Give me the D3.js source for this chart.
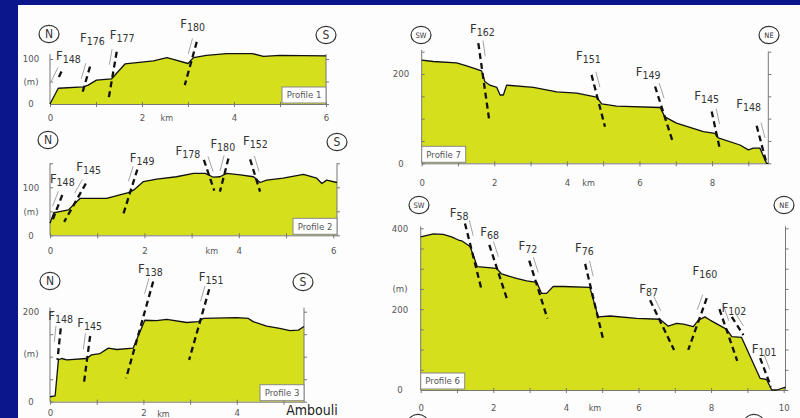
<!DOCTYPE html>
<html>
<head>
<meta charset="utf-8">
<script src="https://cdn.jsdelivr.net/npm/d3@7"></script>
<style>
  html, body { margin: 0; padding: 0; background: #0b168c; }
  svg { display: block; }
  text { font-family: "Liberation Sans Narrow", "DejaVu Sans Condensed", "Liberation Sans", sans-serif; }
</style>
</head>
<body>
<svg id="fig" width="800" height="418"></svg>
<script>
// ---- Topographic profiles: [distance (km), elevation (m)] ----
const profile1 = [[0,0],[0.18,35],[0.72,38],[0.83,42],[1.01,53],[1.34,56],[1.63,89],[2.25,96],[2.54,103],[2.68,99],[3.0,90],[3.12,103],[3.4,108],[3.84,112],[4.4,112],[4.64,106],[5.0,108],[6.0,107]];
const profile2 = [[0,25],[0.08,47],[0.18,49],[0.39,53],[0.64,77],[1.2,77],[1.66,89],[1.77,94],[1.98,112],[2.26,117],[2.68,122],[3.04,129],[3.29,129],[3.46,121],[3.6,122],[3.74,129],[4.03,126],[4.31,122],[4.45,110],[4.59,115],[4.94,119],[5.37,127],[5.65,119],[5.76,108],[5.86,115],[6.08,110]];
const profile3 = [[0,11],[0.11,13],[0.18,93],[0.25,96],[0.36,93],[0.78,96],[0.89,104],[1.07,107],[1.25,119],[1.43,116],[1.78,119],[2.03,181],[2.28,180],[2.5,183],[2.93,176],[3.18,178],[3.28,185],[4.0,187],[4.25,185],[4.35,178],[4.64,168],[4.92,163],[5.14,158],[5.32,159],[5.44,167]];
const profile7 = [[0,231],[0.32,228],[0.96,225],[1.24,218],[1.65,207],[1.74,183],[1.88,175],[2.07,170],[2.16,153],[2.25,153],[2.34,175],[3.08,170],[3.72,160],[4.27,157],[4.82,148],[4.96,133],[5.37,128],[6.57,125],[6.7,104],[7.02,90],[7.76,71],[8.08,67],[8.17,57],[8.77,41],[9.0,30],[9.14,34],[9.32,34],[9.5,0],[9.55,0]];
const profile6 = [[0,379],[0.35,386],[0.62,385],[0.85,379],[1.04,371],[1.13,369],[1.36,355],[1.56,305],[2.09,301],[2.23,287],[2.64,276],[2.92,270],[3.2,266],[3.33,239],[3.47,239],[3.65,256],[3.93,256],[4.66,254],[4.89,181],[5.22,183],[5.95,177],[6.59,175],[6.82,158],[7.05,165],[7.24,163],[7.51,157],[7.65,173],[7.83,181],[7.97,173],[8.43,150],[8.57,132],[8.84,130],[9.35,29],[9.53,26],[9.67,0],[9.81,0],[10.05,7]];

// ---- Faults: upper and lower end of the trace, and label anchor (km, m) ----
const faults1 = [
  {id:"148", top:[0.25,72],  base:[0.16,53], label:[0.40,98]},
  {id:"176", top:[0.87,83],  base:[0.69,20], label:[0.92,138]},
  {id:"177", top:[1.45,116], base:[1.27,9],  label:[1.57,144]},
  {id:"180", top:[3.19,138], base:[2.93,42], label:[3.10,168]}
];
const faults2 = [
  {id:"148", top:[0.26,84],  base:[0.04,28], label:[0.26,108]},
  {id:"145", top:[0.76,108], base:[0.30,28], label:[0.82,133]},
  {id:"149", top:[1.85,137], base:[1.54,40], label:[1.95,153]},
  {id:"178", top:[3.26,157], base:[3.48,93], label:[2.92,167]},
  {id:"180", top:[3.78,160], base:[3.60,91], label:[3.66,181]},
  {id:"152", top:[4.24,158], base:[4.45,91], label:[4.35,188]}
];
const faults3 = [
  {id:"148", top:[0.23,163], base:[0.16,93], label:[0.23,182]},
  {id:"145", top:[0.86,146], base:[0.73,44], label:[0.85,167]},
  {id:"138", top:[2.21,267], base:[1.63,52], label:[2.15,285]},
  {id:"151", top:[3.41,250], base:[2.98,93], label:[3.45,268]}
];
const faults7 = [
  {id:"162", top:[1.56,269], base:[1.86,97], label:[1.67,291]},
  {id:"151", top:[4.68,198], base:[5.05,82], label:[4.59,231]},
  {id:"149", top:[6.43,172], base:[6.93,45], label:[6.24,195]},
  {id:"145", top:[7.99,116], base:[8.22,30], label:[7.85,142]},
  {id:"148", top:[9.23,84],  base:[9.50,0],  label:[9.01,123]}
];
const faults6 = [
  {id:"58",  top:[1.22,412], base:[1.68,247], label:[1.06,429]},
  {id:"68",  top:[1.89,359], base:[2.37,227], label:[1.90,380]},
  {id:"72",  top:[2.99,320], base:[3.49,177], label:[2.95,347]},
  {id:"76",  top:[4.53,312], base:[5.03,124], label:[4.51,342]},
  {id:"87",  top:[6.32,222], base:[6.98,99],  label:[6.28,240]},
  {id:"160", top:[7.88,227], base:[7.37,99],  label:[7.83,285]},
  {id:"102", top:[8.23,200], base:[8.72,72],  label:[8.63,194]},
  {id:"",    top:[8.57,181], base:[8.89,136]},
  {id:"101", top:[9.35,79],  base:[9.65,8],   label:[9.46,91]}
];

// ---- Axis labels ----
const xLabels6km  = [0, 2, 4, 6];
const xLabels10km = [0, 2, 4, 6, 8, 10];
const xLabels8km  = [0, 2, 4, 6, 8];

// ---- Panel layout ----
const panels = [
  {name:"Profile 1", topo:profile1, faults:faults1, xMax:6,    xRange:[50,326],     yRef:100, yRange:[104,59],     topL:111, topR:111, yLabels:[0,100],     mAt:50,  labelX:31,  xLabels:xLabels6km,  kmAt:2.54, xPad:7.5, box:"right", ends:[["N",49,34],["S",326,35]]},
  {name:"Profile 2", topo:profile2, faults:faults2, xMax:6.08, xRange:[50,337],     yRef:100, yRange:[235.3,187.3],topL:150, topR:150, yLabels:[0,100],     mAt:50,  labelX:31,  xLabels:xLabels6km,  kmAt:3.43, xPad:9,   box:"right", ends:[["N",48,140],["S",337,142]]},
  {name:"Profile 3", topo:profile3, faults:faults3, xMax:5.44, xRange:[50,304],     yRef:200, yRange:[401.7,311.7],topL:209, topR:209, yLabels:[0,200],     mAt:108, labelX:31,  xLabels:xLabels6km.slice(0,3), kmAt:2.43, xPad:5, box:"right", ends:[["N",50,281],["S",303,282]]},
  {name:"Profile 7", topo:profile7, faults:faults7, xMax:9.55, xRange:[421.7,768.3],yRef:200, yRange:[163.3,74],   topL:254, topR:250, yLabels:[0,200],     mAt:null,labelX:401, xLabels:xLabels8km,  kmAt:4.6,  xPad:12.5, box:"left", ends:[["SW",421,35],["NE",769,35]]},
  {name:"Profile 6", topo:profile6, faults:faults6, xMax:10.05,xRange:[420.7,785.5],yRef:400, yRange:[390,228.3],  topL:405, topR:405, yLabels:[0,200,400], mAt:250, labelX:400, xLabels:xLabels10km, kmAt:4.8,  xPad:11, box:"left", ends:[["SW",419,205],["NE",784,205]]}
];

const FILL = "#d5df1b", INK = "#111", AXIS = "#777", TXT = "#555";
const svg = d3.select("#fig");

// white sheet on the blue slide
svg.append("rect").attr("x",18).attr("y",5).attr("width",782).attr("height",413).attr("fill","#fdfdfd");

panels.forEach(p => {
  const g = svg.append("g");
  const x = d3.scaleLinear().domain([0, p.xMax]).range(p.xRange);
  const y = d3.scaleLinear().domain([0, p.yRef]).range(p.yRange);
  const [x0, x1] = p.xRange, yb = y(0);

  // terrain fill
  g.append("path").datum(p.topo)
    .attr("d", d3.area().x(d => x(d[0])).y0(yb).y1(d => y(d[1])))
    .attr("fill", FILL);

  // bottom axis: a tick every kilometre, even values labelled
  const xa = g.append("g").attr("transform", `translate(0,${yb})`)
    .call(d3.axisBottom(x).tickValues(d3.range(0, Math.floor(p.xMax) + 1))
      .tickFormat(d => p.xLabels.includes(d) ? d : "")
      .tickSize(3).tickSizeOuter(0).tickPadding(p.xPad));
  xa.select(".domain").attr("stroke", AXIS);
  xa.selectAll(".tick line").attr("stroke", AXIS).attr("y1", -2);
  xa.selectAll(".tick text").attr("fill", TXT).attr("font-size", 9.5)
    .attr("font-family", '"Liberation Sans Narrow","DejaVu Sans Condensed","Liberation Sans",sans-serif');
  g.append("text").attr("x", x(p.kmAt)).attr("y", yb + p.xPad + 3 + 6.8)
    .attr("text-anchor", "middle").attr("font-size", 9).attr("fill", TXT).text("km");

  // vertical axes, ticks every 50 m
  const yl = g.append("g").attr("transform", `translate(${x0},0)`)
    .call(d3.axisRight(y).tickValues(d3.range(0, p.topL + 1, 50)).tickFormat("").tickSize(3).tickSizeOuter(0));
  yl.select(".domain").attr("d", `M0,${yb}V${y(p.topL)}`).attr("stroke", AXIS);
  yl.selectAll(".tick line").attr("stroke", AXIS);
  const yr = g.append("g").attr("transform", `translate(${x1},0)`)
    .call(d3.axisRight(y).tickValues(d3.range(0, p.topR + 1, 50)).tickFormat("").tickSize(3).tickSizeOuter(0));
  yr.select(".domain").attr("d", `M0,${yb}V${y(p.topR)}`).attr("stroke", AXIS);
  yr.selectAll(".tick line").attr("stroke", AXIS);

  // elevation labels
  p.yLabels.forEach(v => {
    g.append("text").attr("x", p.labelX).attr("y", y(v) + 3.4)
      .attr("text-anchor", "middle").attr("font-size", 9.5).attr("fill", TXT).text(v);
  });
  if (p.mAt !== null) {
    g.append("text").attr("x", p.labelX).attr("y", y(p.mAt) + 3.4)
      .attr("text-anchor", "middle").attr("font-size", 9.5).attr("fill", TXT).text("(m)");
  }

  // surface line
  g.append("path").datum(p.topo)
    .attr("d", d3.line().x(d => x(d[0])).y(d => y(d[1])))
    .attr("fill", "none").attr("stroke", INK).attr("stroke-width", 1.3).attr("stroke-linejoin", "round");

  // faults: dashed trace, thin slip marker beside its upper end, label
  p.faults.forEach(f => {
    const T = [x(f.top[0]), y(f.top[1])], B = [x(f.base[0]), y(f.base[1])];
    g.append("line").attr("x1", T[0]).attr("y1", T[1]).attr("x2", B[0]).attr("y2", B[1])
      .attr("stroke", INK).attr("stroke-width", 2.3).attr("stroke-dasharray", "6,4");
    const L = Math.hypot(B[0] - T[0], B[1] - T[1]);
    const u = [(B[0] - T[0]) / L, (B[1] - T[1]) / L];
    const n = B[0] > T[0] ? [u[1], -u[0]] : [-u[1], u[0]];
    const s = [T[0] + n[0] * 5 - u[0] * 2, T[1] + n[1] * 5 - u[1] * 2];
    g.append("line").attr("x1", s[0]).attr("y1", s[1])
      .attr("x2", s[0] + u[0] * 16).attr("y2", s[1] + u[1] * 16)
      .attr("stroke", "#999").attr("stroke-width", 0.9);
    if (f.label) {
      const t = g.append("text").attr("x", x(f.label[0])).attr("y", y(f.label[1]))
        .attr("text-anchor", "middle").attr("fill", "#333");
      t.append("tspan").attr("font-size", 13).text("F");
      t.append("tspan").attr("font-size", 10.5).attr("dy", 3).text(f.id);
    }
  });

  // profile name box
  const bw = 44, bh = 16;
  const bx = p.box === "right" ? x1 - bw : x0;
  const by = yb - bh - 1;
  g.append("rect").attr("x", bx).attr("y", by).attr("width", bw).attr("height", bh)
    .attr("fill", "#fff").attr("stroke", "#888").attr("stroke-width", 1);
  g.append("text").attr("x", bx + bw / 2).attr("y", by + bh / 2 + 3.3)
    .attr("text-anchor", "middle").attr("font-size", 9.5).attr("fill", "#555").text(p.name);

  // orientation markers
  p.ends.forEach(([lab, cx, cy]) => {
    g.append("ellipse").attr("cx", cx).attr("cy", cy).attr("rx", 10).attr("ry", 8.6)
      .attr("fill", "#fff").attr("stroke", "#333").attr("stroke-width", 1.2);
    g.append("text").attr("x", cx).attr("y", cy + (lab.length > 1 ? 2.6 : 4.2))
      .attr("text-anchor", "middle").attr("font-size", lab.length > 1 ? 7.5 : 12)
      .attr("fill", "#333").text(lab);
  });
});

// next row of profiles, only their top edge in view
[[418,423],[754,423]].forEach(([cx, cy]) => {
  svg.append("ellipse").attr("cx", cx).attr("cy", cy).attr("rx", 10).attr("ry", 8.6)
    .attr("fill", "#fff").attr("stroke", "#333").attr("stroke-width", 1.2);
});

// locality name
svg.append("text").attr("x", 312).attr("y", 415).attr("text-anchor", "middle")
  .attr("font-size", 14).attr("fill", "#222").text("Ambouli");
</script>
</body>
</html>
